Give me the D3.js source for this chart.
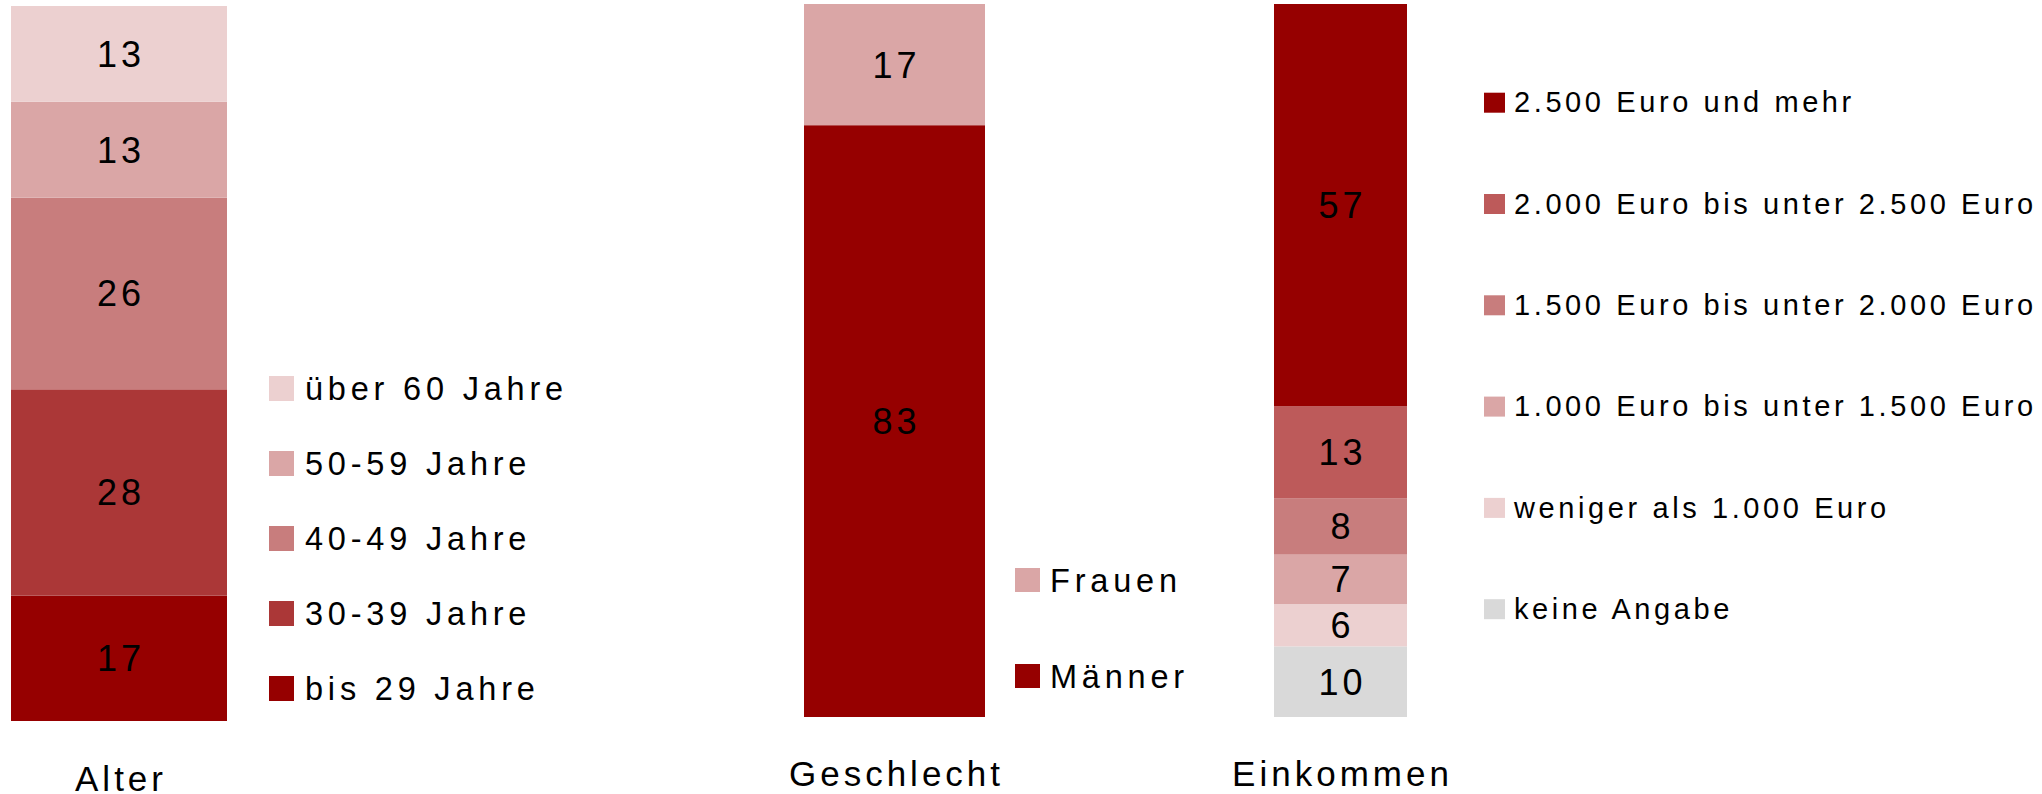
<!DOCTYPE html>
<html>
<head>
<meta charset="utf-8">
<script src="https://cdn.jsdelivr.net/npm/d3@7"></script>
<style>
    body { margin: 0; background: #fff; }
    svg { display: block; font-family: "Liberation Sans", Arial, sans-serif; }
    .val { font-size: 36px; letter-spacing: 4px; fill: #000; }
    .axis_label { font-size: 35px; letter-spacing: 4px; fill: #000; }
    .leg { font-size: 32.5px; letter-spacing: 4.8px; fill: #000; }
    .leg_small { font-size: 29px; letter-spacing: 3.6px; fill: #000; }
</style>
</head>
<body>
<div id="chart"><svg></svg></div>
<script>
// Werte (Prozent), von unten nach oben gestapelt
let alter_keys = ['bis 29 Jahre', '30-39 Jahre', '40-49 Jahre', '50-59 Jahre', 'über 60 Jahre'];
let alter_values = [17, 28, 26, 13, 13];

let geschlecht_keys = ['Männer', 'Frauen'];
let geschlecht_values = [83, 17];

let einkommen_keys = ['keine Angabe', 'weniger als 1.000 Euro', '1.000 Euro bis unter 1.500 Euro',
    '1.500 Euro bis unter 2.000 Euro', '2.000 Euro bis unter 2.500 Euro', '2.500 Euro und mehr'];
let einkommen_values = [10, 6, 7, 8, 13, 57];

let categories = ['Alter', 'Geschlecht', 'Einkommen'];

// Farben
let alter_colors = ['#960000', '#ab3737', '#c87d7d', '#daa6a6', '#ecd0d0'];
let geschlecht_colors = ['#960000', '#daa6a6'];
let einkommen_colors = ['#d9d9d9', '#ecd0d0', '#daa6a6', '#c87d7d', '#bd5a5a', '#960000'];

let width = 2042, height = 794;
let svg = d3.select('#chart').select('svg')
    .attr('width', width)
    .attr('height', height);

function draw_panel(conf) {
    let total = d3.sum(conf.values);
    let y = d3.scaleLinear()
        .domain([0, total])
        .range([conf.bottom, conf.top]);

    // kumulierte Segmente
    let cum = 0;
    let segs = conf.values.map((v, i) => {
        let s = { key: conf.keys[i], value: v, y0: cum, y1: cum + v, color: conf.colors[i] };
        cum += v;
        return s;
    });

    let g = svg.append('g');
    g.selectAll('rect')
        .data(segs)
        .enter().append('rect')
        .attr('x', conf.x0)
        .attr('width', conf.x1 - conf.x0)
        .attr('y', d => y(d.y1))
        .attr('height', d => y(d.y0) - y(d.y1))
        .attr('fill', d => d.color);

    g.selectAll('text.val')
        .data(segs)
        .enter().append('text')
        .attr('class', 'val')
        .attr('text-anchor', 'middle')
        .attr('x', (conf.x0 + conf.x1) / 2 + 2)
        .attr('y', d => (y(d.y0) + y(d.y1)) / 2 + 13)
        .text(d => d.value);

    // Kategorie unter dem Balken
    g.append('text')
        .attr('class', 'axis_label')
        .attr('text-anchor', 'middle')
        .attr('x', (conf.x0 + conf.x1) / 2 + 2)
        .attr('y', conf.label_y)
        .text(conf.label);

    // Legende (umgekehrte Reihenfolge)
    let leg_data = segs.slice().reverse();
    let ly = d3.scalePoint()
        .domain(leg_data.map(d => d.key))
        .range(conf.leg_range);
    let lg = g.append('g');
    lg.selectAll('rect')
        .data(leg_data)
        .enter().append('rect')
        .attr('x', conf.leg_x)
        .attr('y', d => ly(d.key) - conf.sw_h / 2)
        .attr('width', conf.sw_w)
        .attr('height', conf.sw_h)
        .attr('fill', d => d.color);
    lg.selectAll('text')
        .data(leg_data)
        .enter().append('text')
        .attr('class', conf.leg_class)
        .attr('x', conf.leg_x + conf.text_dx)
        .attr('y', d => ly(d.key) + conf.text_dy)
        .text(d => d.key);
}

draw_panel({
    keys: alter_keys, values: alter_values, colors: alter_colors, label: categories[0],
    x0: 11, x1: 227, top: 6, bottom: 721, label_y: 791,
    leg_x: 269, leg_range: [388.5, 688.5], sw_w: 25, sw_h: 25, text_dx: 36, text_dy: 11, leg_class: 'leg'
});

draw_panel({
    keys: geschlecht_keys, values: geschlecht_values, colors: geschlecht_colors, label: categories[1],
    x0: 804, x1: 985, top: 4, bottom: 717, label_y: 786,
    leg_x: 1015, leg_range: [580, 676], sw_w: 25, sw_h: 24, text_dx: 35, text_dy: 12, leg_class: 'leg'
});

draw_panel({
    keys: einkommen_keys, values: einkommen_values, colors: einkommen_colors, label: categories[2],
    x0: 1274, x1: 1407, top: 4, bottom: 717, label_y: 786,
    leg_x: 1484, leg_range: [102.7, 609.2], sw_w: 21, sw_h: 20, text_dx: 30, text_dy: 9.6, leg_class: 'leg_small'
});
</script>
</body>
</html>
